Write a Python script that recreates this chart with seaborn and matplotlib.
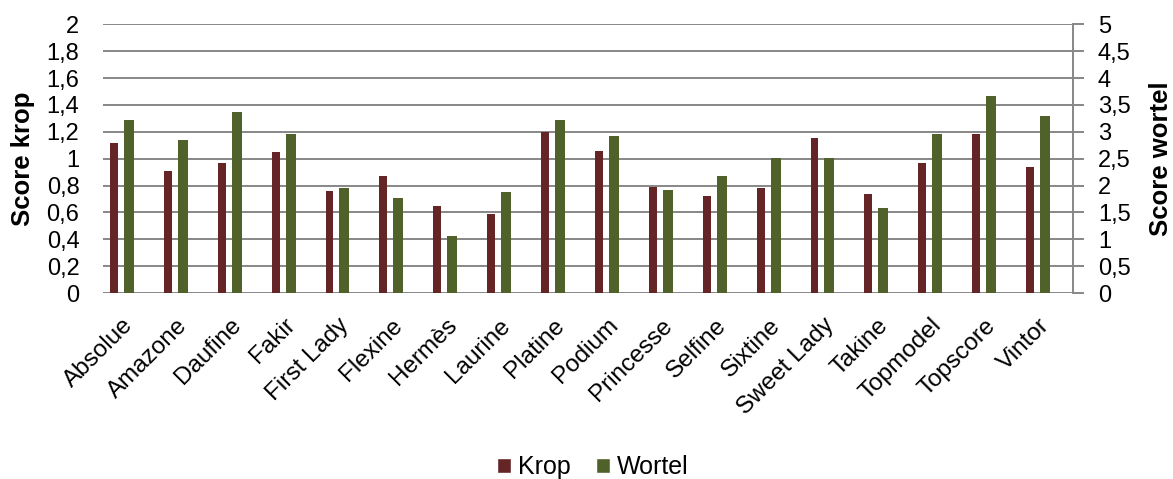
import numpy as np
import pandas as pd
import matplotlib
matplotlib.use("Agg")
import matplotlib.pyplot as plt
from matplotlib.patches import Patch
import seaborn as sns

# Potato variety scores: "krop" (left axis) and "wortel" (right axis)
varieties = ["Absolue", "Amazone", "Daufine", "Fakir", "First Lady", "Flexine",
             "Hermès", "Laurine", "Platine", "Podium", "Princesse", "Selfine",
             "Sixtine", "Sweet Lady", "Takine", "Topmodel", "Topscore", "Vintor"]
krop = [1.12, 0.91, 0.97, 1.05, 0.76, 0.87, 0.65, 0.59, 1.20,
        1.06, 0.79, 0.72, 0.78, 1.15, 0.74, 0.97, 1.18, 0.94]
wortel = [3.22, 2.85, 3.37, 2.96, 1.95, 1.76, 1.06, 1.88, 3.22,
          2.92, 1.91, 2.17, 2.51, 2.51, 1.58, 2.96, 3.66, 3.30]

left_ticks = [0, 0.2, 0.4, 0.6, 0.8, 1.0, 1.2, 1.4, 1.6, 1.8, 2.0]
right_ticks = [0, 0.5, 1, 1.5, 2, 2.5, 3, 3.5, 4, 4.5, 5]

KROP_COLOR = "#652426"
WORTEL_COLOR = "#50622a"
GRID_COLOR = "#878787"

sns.set_theme(style="white")
plt.rcParams["font.family"] = ["Liberation Sans", "DejaVu Sans"]
plt.rcParams["text.color"] = "black"
plt.rcParams["axes.labelcolor"] = "black"
plt.rcParams["xtick.labelcolor"] = "black"
plt.rcParams["ytick.labelcolor"] = "black"

idx = np.arange(len(varieties))
df = pd.DataFrame({
    "variety": varieties,
    "krop": krop,
    "wortel": wortel,
    "pos_krop": idx - 0.297,
    "pos_wortel": idx - 0.019,
})

fig = plt.figure(figsize=(11.73, 4.79), dpi=100)
ax = fig.add_axes([103 / 1173, 1 - 293 / 479, 970 / 1173, (293 - 24.3) / 479])
ax2 = ax.twinx()

sns.barplot(data=df, x="pos_krop", y="krop", native_scale=True, orient="x",
            width=0.148, color=KROP_COLOR, saturation=1, ax=ax, zorder=3)
sns.barplot(data=df, x="pos_wortel", y="wortel", native_scale=True, orient="x",
            width=0.186, color=WORTEL_COLOR, saturation=1, ax=ax2, zorder=3)

for p in ax.patches:
    p.set_edgecolor("none")
for p in ax2.patches:
    p.set_edgecolor("none")

# Axes ranges and ticks
ax.set_xlim(-0.5, len(varieties) - 0.5)
ax.set_ylim(0, 2)
ax2.set_ylim(0, 5)
ax.set_yticks(left_ticks)
ax.set_yticklabels([f"{t:g}".replace(".", ",") for t in left_ticks])
ax2.set_yticks(right_ticks)
ax2.set_yticklabels([f"{t:g}".replace(".", ",") for t in right_ticks])

ax.set_xticks(idx)
ax.set_xticklabels(varieties, rotation=45, ha="right", va="center",
                   rotation_mode="anchor", fontsize=17.5, color="black")
ax.tick_params(axis="x", length=0, pad=21, labelcolor="black")
ax.tick_params(axis="y", length=0, pad=17, labelsize=17, labelcolor="black")
ax2.tick_params(axis="y", length=8, width=1.4, color=GRID_COLOR, pad=10,
                labelsize=17, direction="out", labelcolor="black")

# Horizontal gridlines shared by both scales
ax.yaxis.grid(True, color=GRID_COLOR, linewidth=1.4)
ax.set_axisbelow(True)

for a in (ax, ax2):
    for side in ("left", "top", "right", "bottom"):
        a.spines[side].set_visible(False)
ax2.spines["right"].set_visible(True)
ax2.spines["right"].set_color(GRID_COLOR)
ax2.spines["right"].set_linewidth(1.4)

ax.set_xlabel("")
ax2.set_xlabel("")
ax.set_ylabel("Score krop", fontsize=18.5, fontweight="bold", color="black")
ax.yaxis.label.set_va("center")
ax.yaxis.set_label_coords(-80 / 970, 0.5)
ax2.set_ylabel("Score wortel", fontsize=18.5, fontweight="bold", rotation=90,
               color="black")
ax2.yaxis.label.set_va("center")
ax2.yaxis.set_label_coords(1 + 88 / 970, 0.5)

handles = [Patch(facecolor=KROP_COLOR, label="Krop"),
           Patch(facecolor=WORTEL_COLOR, label="Wortel")]
fig.legend(handles=handles, loc="center", bbox_to_anchor=(593 / 1173, 1 - 467 / 479),
           ncol=2, frameon=False, fontsize=18, handlelength=0.55, handleheight=0.55,
           handletextpad=0.3, columnspacing=1.0, labelcolor="black")

fig.savefig("out.png", dpi=100)
